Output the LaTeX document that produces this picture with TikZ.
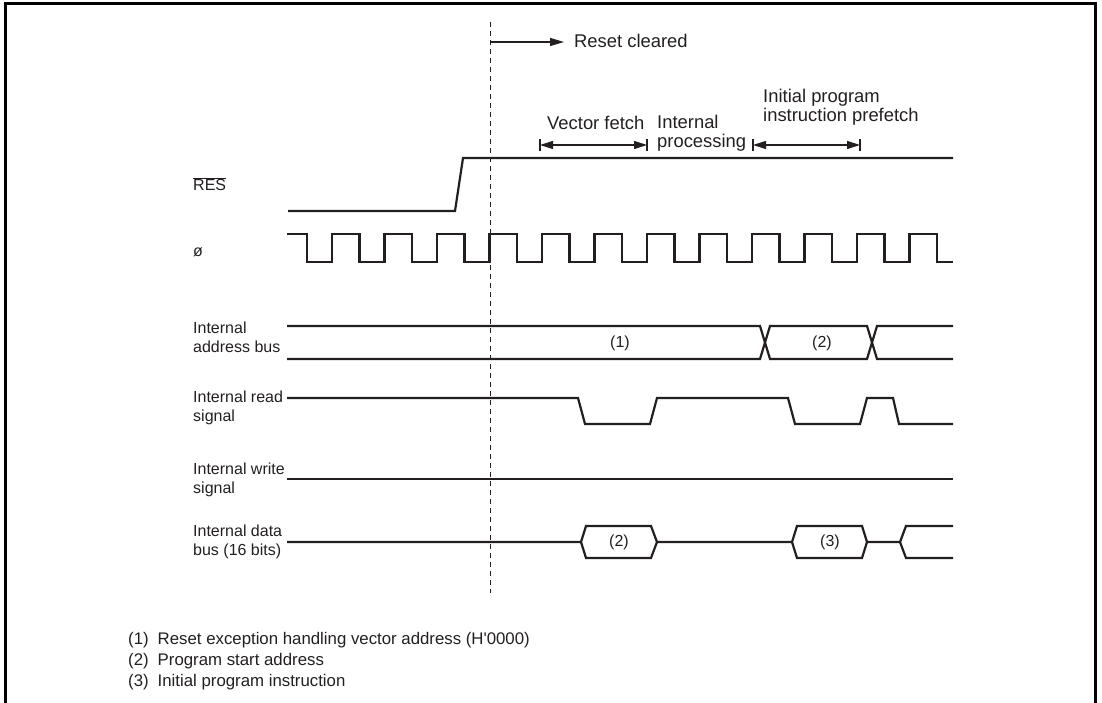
\documentclass[tikz,border=0pt]{standalone}
\usepackage{fontspec}
\setmainfont[Ligatures=NoCommon]{Liberation Sans}
\usetikzlibrary{arrows.meta}
\definecolor{ink}{RGB}{35,31,32}
\begin{document}
\begin{tikzpicture}[x=1pt,y=-1pt,
  sig/.style={line width=2.2pt, draw=ink, line join=miter},
  lbl/.style={font=\fontsize{16}{19}\selectfont, inner sep=0pt, text=ink, align=left},
  toplbl/.style={font=\fontsize{18.4}{19.5}\selectfont, inner sep=0pt, text=ink, align=left},
  note/.style={font=\fontsize{16.8}{20}\selectfont, inner sep=0pt, text=ink},
  dim/.style={line width=1.1pt, draw=ink},
  tip/.style={-{Triangle[length=14pt,width=8pt]}},
  both/.style={{Triangle[length=13pt,width=8pt]}-{Triangle[length=13pt,width=8pt]}}]
\useasboundingbox (0,0) rectangle (1102,703);
\draw[line width=3pt] (5,705) -- (5,4) -- (1095,4) -- (1095,705);

% left labels
\node[lbl,anchor=base west] (lres) at (193,191) {$\overline{\hbox{RES}}$};
\node[lbl,anchor=base west] (lphi) at (193,257) {ø};
\node[lbl,anchor=west] (ladr) at (193,337) {Internal\\address bus};
\node[lbl,anchor=west] (lrd) at (193,408) {Internal read\\signal};
\node[lbl,anchor=west] (lwr) at (193,480) {Internal write\\signal};
\node[lbl,anchor=west] (ldat) at (193,542) {Internal data\\bus (16 bits)};

% dashed reset line
\coordinate (dtop) at (490,22);
\coordinate (dbot) at (490,593);
\draw[line width=1pt, draw=ink, dash pattern=on 5pt off 4pt] (dtop) -- (dbot);

% reset cleared
\node[toplbl,anchor=base west] (rc) at (574,48) {Reset cleared};
\coordinate (rcs) at (490,42);
\coordinate (rce) at (564,42);
\draw[dim,tip] (rcs) -- (rce);

% phase labels
\node[toplbl,anchor=base west] (vf) at (547,130) {Vector fetch};
\node[toplbl,anchor=base west] (ip) at (657,148) {Internal\\processing};
\node[toplbl,anchor=base west] (ipp) at (763,122) {Initial program\\instruction prefetch};
\coordinate (vfa) at (540,145);
\coordinate (vfb) at (647,145);
\coordinate (ppa) at (753,145);
\coordinate (ppb) at (860,145);
\draw[dim,both] (vfa) -- (vfb);
\draw[dim,both] (ppa) -- (ppb);
\foreach \c in {vfa,vfb,ppa,ppb} \draw[dim] ([yshift=-6pt]\c) -- ([yshift=6pt]\c);

% RES
\draw[sig] (288,211) -- (455,211) -- (463,158) -- (953,158);

% clock
\draw[sig] (287,234) -- (307,234)
  \foreach \k in {0,...,11} { -- ({307+52.5*\k},262) -- ({332+52.5*\k},262) -- ({332+52.5*\k},234) -- ({359.5+52.5*\k},234) }
  -- (937,234) -- (937,262) -- (953,262);

% address bus
\draw[sig] (287,326) -- (760,326) -- (770,359) -- (867,359) -- (877,326) -- (953,326);
\draw[sig] (287,359) -- (760,359) -- (770,326) -- (867,326) -- (877,359) -- (953,359);
\node[lbl] (a1) at (620,343) {(1)};
\node[lbl] (a2) at (822,343) {(2)};

% read
\draw[sig] (287,398) -- (578,398) -- (585,424) -- (650,424) -- (657,398) -- (788,398) -- (795,424) -- (860,424) -- (867,398) -- (893,398) -- (899,424) -- (953,424);

% write
\draw[sig] (287,479) -- (953,479);

% data bus
\draw[sig] (287,542) -- (581,542) -- (586,526) -- (651,526) -- (657,542) -- (792,542) -- (797,526) -- (862,526) -- (867,542) -- (900,542) -- (906,526) -- (953,526);
\draw[sig] (581,542) -- (586,558) -- (651,558) -- (657,542);
\draw[sig] (792,542) -- (797,558) -- (862,558) -- (867,542);
\draw[sig] (900,542) -- (906,558) -- (953,558);
\node[lbl] (d2) at (619,542) {(2)};
\node[lbl] (d3) at (830,542) {(3)};

% notes
\node[note,anchor=base west] (n1) at (128,644) {(1)\hspace{9pt}Reset exception handling vector address (H\textquotesingle 0000)};
\node[note,anchor=base west] (n2) at (128,665) {(2)\hspace{9pt}Program start address};
\node[note,anchor=base west] (n3) at (128,686) {(3)\hspace{9pt}Initial program instruction};
\end{tikzpicture}
\end{document}
